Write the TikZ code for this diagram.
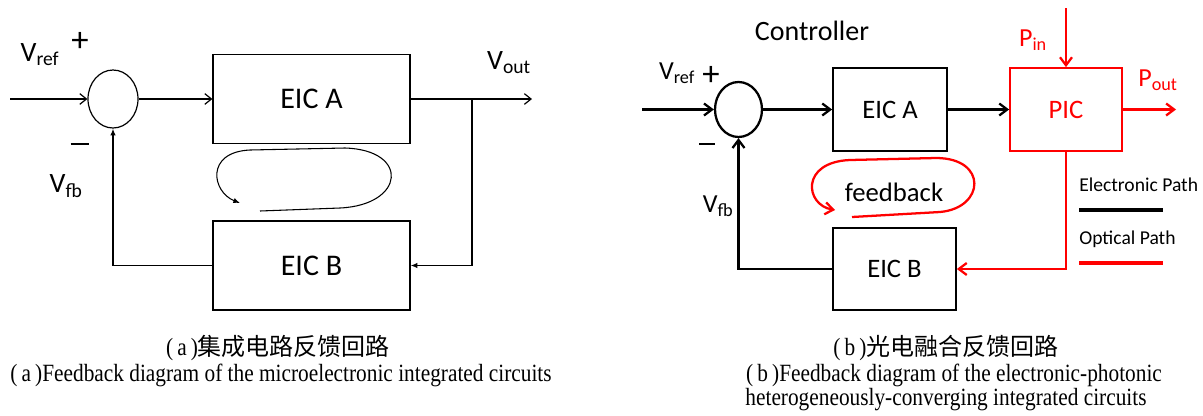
\documentclass[tikz,border=0pt]{standalone}
\usepackage{fontspec}
\setmainfont{Carlito}
\newfontfamily\capfont[FakeStretch=0.86]{Liberation Serif}
\newfontfamily\cjk{Noto Sans CJK SC}
\usetikzlibrary{arrows.meta,shapes.geometric}
\definecolor{optred}{RGB}{255,0,0}
\tikzset{
  thinln/.style={line width=0.9pt},
  thickln/.style={line width=1.7pt},
  opentip/.style={-{Straight Barb[length=5pt,width=8pt]}},
  filltip/.style={-{Latex[length=5pt,width=4pt]}},
  boldtip/.style={-{Straight Barb[length=6pt,width=9pt,line width=1.7pt]}},
  sumnode/.style={draw,ellipse,inner sep=0pt},
  boxa/.style={draw,thinln,inner sep=0pt,minimum width=147.75pt,minimum height=66.75pt,font=\fontsize{22.5}{27}\selectfont},
  boxb/.style={draw,line width=1.3pt,inner sep=0pt,minimum height=62.25pt,font=\fontsize{20}{24}\selectfont},
  lbla/.style={font=\fontsize{21}{25}\selectfont,inner sep=0pt},
  lblb/.style={font=\fontsize{19.5}{23}\selectfont,inner sep=0pt},
  signtxt/.style={font=\fontsize{26}{30}\selectfont,inner sep=0pt},
  captxt/.style={font=\capfont\fontsize{18.6}{22}\selectfont,inner sep=0pt}
}
\begin{document}
\begin{tikzpicture}[x=0.75pt,y=-0.75pt]
  \useasboundingbox (0,0) rectangle (1203,415);
  \node[sumnode,thinln,minimum width=37.5pt,minimum height=43.5pt] (SA) at (113,99) {};
  \node[boxa] (EAa) at (311.5,99) {EIC A}; \node[boxa] (EBa) at (311.5,265.5) {EIC B};
  \coordinate (INa) at (10,99); \coordinate (OUTa) at (532,99); \coordinate (BRa) at (472,99);
  \draw[thinln,opentip] (INa) -- (SA); \draw[thinln,opentip] (SA) -- (EAa);
  \draw[thinln,opentip] (EAa) -- (OUTa); \draw[thinln,filltip] (BRa) |- (EBa.east);
  \draw[thinln,filltip] (EBa.west) -| (SA.south);
  \node[lbla] (VRa) at (40,55) {V\textsubscript{ref}}; \node[signtxt] (PLa) at (80,42) {+};
  \node[inner sep=0pt] (MIa) at (80,144) {\rule{14pt}{1.2pt}}; \node[lbla] (VFa) at (66,186) {V\textsubscript{fb}};
  \node[lbla] (VOa) at (509,63) {V\textsubscript{out}};
  \draw[line width=0.8pt,filltip] (260,211) -- (340,208) .. controls (405,205) and (410,150) .. (345,148)
    -- (250,150) .. controls (205,152) and (212,192) .. (240,203);
  \node[sumnode,thickln,minimum width=35.25pt,minimum height=41.25pt] (SB) at (738.5,109.5) {};
  \node[boxb,minimum width=85.5pt] (EAb) at (890,109.5) {EIC A};
  \node[boxb,minimum width=92.25pt,minimum height=61.5pt] (EBb) at (894.5,269) {EIC B};
  \node[boxb,optred,minimum width=84pt] (PIC) at (1066,109.5) {PIC};
  \coordinate (INb) at (642,109.5); \coordinate (PINs) at (1066,8); \coordinate (POUTe) at (1176,109.5);
  \draw[thickln,boldtip] (INb) -- (SB); \draw[thickln,boldtip] (SB) -- (EAb);
  \draw[thickln,boldtip] (EAb) -- (PIC);
  \draw[thickln,boldtip] (EBb.west) -| (SB.south);
  \draw[thickln,optred,boldtip] (PINs) -- (PIC); \draw[thickln,optred,boldtip] (PIC) -- (POUTe);
  \draw[thickln,optred,boldtip] (PIC.south) |- (EBb.east);
  \node[font=\fontsize{21}{25}\selectfont] (CTL) at (812,31) {Controller};
  \node[lblb] (VRb) at (677,73) {V\textsubscript{ref}}; \node[signtxt] (PLb) at (711,76) {+};
  \node[inner sep=0pt] (MIb) at (707,144) {\rule{11.5pt}{1.4pt}}; \node[lblb] (VFb) at (718,206) {V\textsubscript{fb}};
  \node[lblb,optred] (PIN) at (1033,40) {P\textsubscript{in}}; \node[lblb,optred] (POUT) at (1158,80) {P\textsubscript{out}};
  \node[font=\fontsize{20}{24}\selectfont] (FB) at (894,192) {feedback};
  \draw[thickln,optred,boldtip] (852,217) -- (940,212) .. controls (985,208) and (988,158) .. (936,158)
    -- (850,160) .. controls (800,162) and (805,205) .. (835,210);
  \node[font=\fontsize{14.7}{17}\selectfont,anchor=west,inner sep=0pt] (ELP) at (1079,185) {Electronic Path};
  \node[font=\fontsize{14.7}{17}\selectfont,anchor=west,inner sep=0pt] (OPP) at (1079,239) {Optical Path};
  \coordinate (E1) at (1079,210); \coordinate (E2) at (1163,210);
  \coordinate (O1) at (1079,263); \coordinate (O2) at (1163,263);
  \draw[line width=2.5pt] (E1) -- (E2); \draw[line width=2.5pt,optred] (O1) -- (O2);
  \node[captxt] (CA1) at (278,348) {(\,a\,){\cjk\fontsize{18}{20}\selectfont 集成电路反馈回路}};
  \node[captxt] (CA2) at (281,375) {(\,a\,)Feedback diagram of the microelectronic integrated circuits};
  \node[captxt] (CB1) at (946,348) {(\,b\,){\cjk\fontsize{18}{20}\selectfont 光电融合反馈回路}};
  \node[captxt] (CB2) at (954,375) {(\,b\,)Feedback diagram of the electronic-photonic};
  \node[captxt] (CB3) at (946,400) {heterogeneously-converging integrated circuits};
\end{tikzpicture}
\end{document}
